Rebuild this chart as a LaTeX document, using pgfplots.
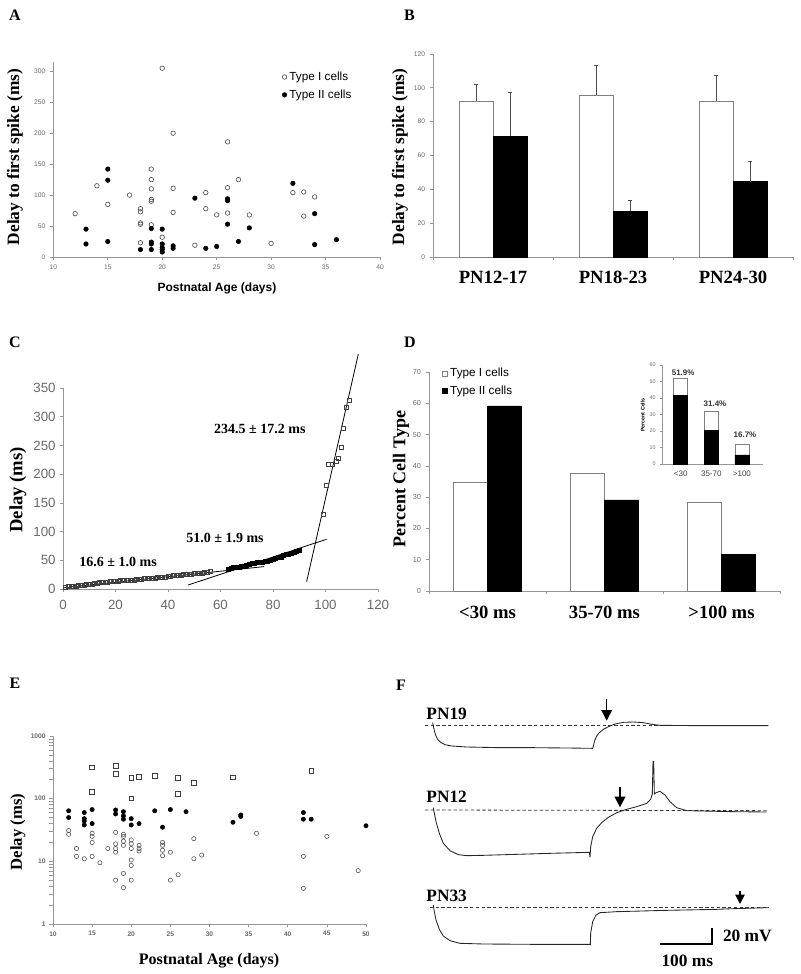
\documentclass[border=0pt]{standalone}
\usepackage{fontspec}
\setmainfont{Liberation Serif}
\newfontfamily\sansf{Liberation Sans}
\usepackage{pgfplots}
\pgfplotsset{compat=1.18}
\usetikzlibrary{arrows.meta}
\definecolor{axgray}{RGB}{150,150,150}
\definecolor{tkgray}{RGB}{105,105,105}
\definecolor{mkgray}{RGB}{85,85,85}
\newcommand{\fs}[1]{\fontsize{#1}{#1}\selectfont}
\pgfplotsset{
  panel/.style={scale only axis, anchor=south west, clip=false, enlargelimits=false,
    axis lines=left, axis line style={-, draw=axgray, line width=0.6pt},
    tick style={draw=axgray, line width=0.5pt}, tick align=outside,
    major tick length=2.5pt, minor tick num=0,
    ticklabel style={text=tkgray},
    /pgf/number format/assume math mode=true,
    legend cell align=left},
  sqlegend/.style={legend image code/.code={\draw[##1,line width=0.5pt] (0pt,-2pt) rectangle (4pt,2pt);}},
  mklegend/.style={legend image code/.code={\draw[mark repeat=2,mark phase=2,##1] plot coordinates {(0pt,0pt)(3pt,0pt)(6pt,0pt)};}},
}
\begin{document}
\begin{tikzpicture}
\path[use as bounding box] (0pt,0pt) rectangle (600pt,730.5pt);
% panel letters
\node[font=\bfseries\fs{12}] at (11.25pt,719.25pt) {A};
\node[font=\bfseries\fs{12}] at (307pt,719.25pt) {B};
\node[font=\bfseries\fs{12}] at (11.25pt,474pt) {C};
\node[font=\bfseries\fs{12}] at (307.5pt,474pt) {D};
\node[font=\bfseries\fs{12}] at (11.25pt,218.25pt) {E};
\node[font=\bfseries\fs{12}] at (300.75pt,216.75pt) {F};
% axis titles
\node[rotate=90, font=\bfseries\fs{13}] at (11.25pt,612.75pt) {Delay to first spike (ms)};
\node[rotate=90, font=\bfseries\fs{13}] at (300pt,612.75pt) {Delay to first spike (ms)};
\node[font=\sansf\bfseries\fs{9}] at (162.75pt,514.5pt) {Postnatal Age (days)};
\node[rotate=90, font=\bfseries\fs{14}] at (13.5pt,363pt) {Delay (ms)};
\node[rotate=90, font=\bfseries\fs{13.5}] at (300.75pt,371.25pt) {Percent Cell Type};
\node[rotate=90, font=\bfseries\fs{12.5}] at (13.5pt,106.5pt) {Delay (ms)};
\node[font=\bfseries\fs{12}] at (156.75pt,9.75pt) {Postnatal Age (days)};
\node[rotate=90, font=\sansf\bfseries\fs{4}] at (482pt,419.25pt) {Percent Cells};

% ---------------- Panel A
\begin{axis}[panel, at={(40pt,537.75pt)}, width=245pt, height=146.25pt,
  xmin=10, xmax=40, ymin=0, ymax=315,
  xtick={10,15,...,40}, ytick={0,50,...,300},
  ticklabel style={font=\sansf\fs{5}},
  legend style={at={(0.70,0.965)}, anchor=north west, draw=none, fill=none,
    font=\sansf\fs{8.8}, row sep=1.5pt, inner sep=0pt}]
\addplot[only marks, mark=o, mark size=1.7pt, draw=mkgray, line width=0.5pt, mklegend] coordinates {
(12,70) (14,115) (15,85) (17,100) (18,78) (18,73) (18,55) (18,53) (18,23)
(19,142) (19,125) (19,110) (19,93) (19,90) (19,52) (20,305) (20,32)
(21,200) (21,111) (21,72) (23,19) (24,104) (24,78) (25,68) (26,186) (26,112) (26,71)
(27,125) (28,68) (30,22) (32,104) (33,105) (33,66) (34,97)};
\addlegendentry{Type I cells}
\addplot[only marks, mark=*, mark size=1.7pt, black, mklegend] coordinates {
(13,45) (13,21) (15,142) (15,124) (15,25) (18,12) (19,46) (19,24) (19,21) (19,12)
(20,45) (20,21) (20,15) (20,12) (20,8) (21,18) (21,14) (23,95) (24,14) (25,17)
(26,94) (26,91) (26,53) (27,25) (28,47) (32,119) (34,70) (34,20) (36,28)};
\addlegendentry{Type II cells}
\end{axis}

% ---------------- Panel B
\begin{axis}[panel, at={(324.75pt,537.75pt)}, width=270pt, height=152.25pt,
  xmin=-0.5, xmax=2.5, ymin=0, ymax=120,
  xtick={-0.5,0.5,1.5,2.5}, xticklabels={}, ytick={0,20,...,120},
  ticklabel style={font=\sansf\fs{5}}]
\addplot[ybar, bar width=25.5pt, bar shift=0pt, fill=white, draw=gray, line width=0.6pt,
  error bars/.cd, y dir=plus, y explicit,
  error bar style={line width=0.6pt, draw=black!70},
  error mark options={rotate=90, mark size=1.8pt, line width=0.8pt, draw=black!70}]
  coordinates {(-0.1417,92) +- (0,10) (0.8583,95.5) +- (0,17.5) (1.8583,92) +- (0,15.5)};
\addplot[ybar, bar width=25.5pt, bar shift=0pt, fill=black, draw=black,
  error bars/.cd, y dir=plus, y explicit,
  error bar style={line width=0.6pt, draw=black!70},
  error mark options={rotate=90, mark size=1.8pt, line width=0.8pt, draw=black!70}]
  coordinates {(0.1417,71.5) +- (0,25.5) (1.1417,27) +- (0,6.5) (2.1417,44.5) +- (0,12)};
\node[font=\bfseries\fs{14}, yshift=-15pt] at (axis cs:0,0) {PN12-17};
\node[font=\bfseries\fs{14}, yshift=-15pt] at (axis cs:1,0) {PN18-23};
\node[font=\bfseries\fs{14}, yshift=-15pt] at (axis cs:2,0) {PN24-30};
\end{axis}

% ---------------- Panel C
\begin{axis}[panel, at={(47.25pt,288.75pt)}, width=236.25pt, height=150.75pt,
  xmin=0, xmax=120, ymin=0, ymax=350, xtick={0,20,...,120}, ytick={0,50,...,350},
  ticklabel style={font=\sansf\fs{10}}, xticklabel style={yshift=-3pt}, major tick length=2pt]
\addplot[only marks, mark=square, mark size=1.5pt, draw=black!75, line width=0.45pt] coordinates {
(1,3) (2,4) (3,4) (4,5) (5,5) (6,6) (7,6) (8,7) (9,8) (10,9) (11,9) (12,10) (13,10) (14,11)
(15,11) (16,12) (17,12) (18,13) (19,13) (20,14) (21,14) (22,15) (23,15) (24,15) (25,16) (26,16)
(27,16) (28,17) (29,17) (30,17) (31,18) (32,18) (33,18) (34,19) (35,19) (36,20) (37,20) (38,21)
(39,21) (40,22) (41,22) (42,23) (43,23) (44,24) (45,24) (46,25) (47,25) (48,26) (49,26) (50,27)
(51,27) (52,28) (53,28) (54,29) (55,29) (56,30)};
\addplot[only marks, mark=square*, mark size=1.5pt, black] coordinates {
(63,35) (64,36) (65,37) (66,38) (67,38) (68,39) (69,40) (70,42) (71,43) (72,44) (73,45) (74,46)
(75,46) (76,47) (77,48) (78,49) (79,50) (80,52) (81,54) (82,55) (83,56) (84,58) (85,60) (86,61)
(87,63) (88,64) (89,66) (90,68)};
\addplot[only marks, mark=square, mark size=1.5pt, draw=black!75, line width=0.45pt] coordinates {
(99.2,130) (100.2,180) (101.1,217) (102.7,218) (104,222) (104.9,228) (105.9,247) (106.8,279) (108.1,316) (109.1,328)};
\addplot[black, line width=0.6pt] coordinates {(0,2) (76.6,39)};
\addplot[black, line width=0.6pt] coordinates {(47.7,7) (100.4,86.6)};
\addplot[black, line width=0.6pt] coordinates {(92.8,12.7) (112.5,409)};
\node[font=\bfseries\fs{10.5}] at (axis cs:21,47) {16.6 ± 1.0 ms};
\node[font=\bfseries\fs{10.5}] at (axis cs:61.7,89) {51.0 ± 1.9 ms};
\node[font=\bfseries\fs{10.5}] at (axis cs:75,279) {234.5 ± 17.2 ms};
\end{axis}

% ---------------- Panel D
\begin{axis}[panel, at={(321.75pt,287.25pt)}, width=263.25pt, height=164.25pt,
  xmin=-0.5, xmax=2.5, ymin=0, ymax=70, xtick={-0.5,0.5,1.5,2.5}, xticklabels={}, ytick={0,10,...,70},
  ticklabel style={font=\sansf\fs{5.5}},
  legend style={at={(0.035,1.03)}, anchor=north west, draw=none, fill=none,
    font=\sansf\fs{8.8}, row sep=1pt, inner sep=0pt}]
\addplot[ybar, bar width=25.5pt, bar shift=0pt, fill=white, draw=gray, line width=0.6pt, sqlegend]
  coordinates {(-0.1453,34.6) (0.8547,37.7) (1.8547,28.4)};
\addlegendentry{Type I cells}
\addplot[ybar, bar width=25.5pt, bar shift=0pt, fill=black, draw=black, sqlegend]
  coordinates {(0.1453,59.2) (1.1453,29.1) (2.1453,11.8)};
\addlegendentry{Type II cells}
\node[font=\bfseries\fs{14}, yshift=-15.75pt] at (axis cs:0,0) {<30 ms};
\node[font=\bfseries\fs{14}, yshift=-15.75pt] at (axis cs:1,0) {35-70 ms};
\node[font=\bfseries\fs{14}, yshift=-15.75pt] at (axis cs:2,0) {>100 ms};
\end{axis}

% ---------------- Panel D inset
\begin{axis}[panel, at={(496.75pt,382.5pt)}, width=75.75pt, height=74.25pt,
  xmin=-0.6, xmax=2.7, ymin=0, ymax=60, xtick={0,1,2}, xticklabels={<30,35-70,>100}, ytick={0,10,...,60},
  yticklabel style={font=\sansf\fs{4}}, xticklabel style={font=\sansf\fs{6}, text=black!75},
  major tick length=1.5pt, major x tick style={draw=none}, ybar stacked, bar width=10.5pt]
\addplot[fill=black, draw=black] coordinates {(0,41.6) (1,20.6) (2,5.5)};
\addplot[fill=white, draw=gray, line width=0.5pt] coordinates {(0,10.3) (1,11.1) (2,6.4)};
\node[font=\sansf\bfseries\fs{6}, text=black!80] at (axis cs:0.08,55.3) {51.9\%};
\node[font=\sansf\bfseries\fs{6}, text=black!80] at (axis cs:1.12,36.8) {31.4\%};
\node[font=\sansf\bfseries\fs{6}, text=black!80] at (axis cs:2.1,17.6) {16.7\%};
\end{axis}

% ---------------- Panel E
\begin{axis}[panel, ymode=log, at={(39.75pt,37.5pt)}, width=234.75pt, height=141pt,
  xmin=10, xmax=50, ymin=1, ymax=1000, xtick={10,15,...,50}, ytick={1,10,100,1000},
  yticklabels={1,10,100,1000}, ticklabel style={font=\sansf\bfseries\fs{5}}, major tick length=2pt]
\addplot[only marks, mark=square, mark size=1.8pt, draw=black!75, line width=0.45pt] coordinates {
(15,316) (15,130) (18,333) (18,248) (20,216) (20,101) (21,225) (23,230) (26,216) (26,120)
(28,180) (33,219) (43,280)};
\addplot[only marks, mark=*, mark size=1.6pt, black] coordinates {
(12,64) (12,50) (14,60) (14,48) (14,44) (14,38) (15,67) (15,40) (18,66) (18,57)
(19,62) (19,53) (19,47) (20,48) (20,38) (21,40) (23,64) (24,35) (25,67) (27,62)
(33,42) (34,55) (34,52) (42,60) (42,47) (43,47) (50,37)};
\addplot[only marks, mark=o, mark size=1.6pt, draw=mkgray, line width=0.45pt] coordinates {
(12,31) (12,27) (13,16) (13,12) (14,11) (15,28) (15,25) (15,20) (15,12) (16,9.5) (17,16)
(18,29) (18,19) (18,16) (18,14) (18,5) (19,27) (19,25) (19,21) (19,18) (19,6.4) (19,3.8)
(20,22) (20,19) (20,16) (20,10.5) (20,8.6) (20,5) (21,18) (21,16) (21,14.6)
(24,20) (24,18) (24,15) (24,12.3) (25,14) (25,5) (26,6.1) (28,23) (28,11) (29,12.6)
(36,28) (42,12) (42,3.7) (45,25) (49,7.1)};
\end{axis}

% ---------------- Panel F (traces)
\begin{axis}[at={(300pt,0pt)}, anchor=south west, scale only axis, width=300pt, height=250.5pt,
  xmin=0, xmax=1200, ymin=0, ymax=1002, y dir=reverse, hide axis, clip=false]
\addplot[black!80, line width=0.6pt, dash pattern=on 2.5pt off 1.8pt] coordinates {(75,256) (1105,256)};
\addplot[black!80, line width=0.6pt, dash pattern=on 2.5pt off 1.8pt] coordinates {(75,510) (1100,512)};
\addplot[black!80, line width=0.6pt, dash pattern=on 2.5pt off 1.8pt] coordinates {(90,803) (1105,803)};
\addplot[black!85, line width=0.65pt] coordinates {(98,248) (100,258) (103,272) (107,286) (113,298)
 (122,307) (135,314) (155,318) (200,321) (300,323) (400,323) (500,324) (578,325) (580,318)
 (584,302) (590,288) (598,278) (610,268) (625,260) (645,252) (670,247) (700,246) (730,248)
 (755,253) (780,256) (900,257) (1105,257)};
\addplot[black!85, line width=0.65pt] coordinates {(100,503) (102,515) (108,545) (118,580) (130,610)
 (150,632) (175,644) (200,647) (250,646) (350,643) (450,640) (568,637) (570,652) (572,620)
 (578,590) (590,565) (605,548) (625,532) (650,518) (680,508) (710,500) (740,490) (752,478)
 (757,462) (759,365) (761,365) (763,462) (768,458) (780,454) (795,465) (810,485) (830,503)
 (860,512) (1000,515) (1100,516)};
\addplot[black!85, line width=0.65pt] coordinates {(100,795) (102,810) (108,840) (118,868) (130,888)
 (150,902) (180,910) (250,912) (400,913) (571,913) (572,880) (578,845) (588,825) (600,818)
 (650,815) (800,811) (950,808) (1000,806) (1105,803)};
\addplot[black, line width=1.2pt, -{Triangle[width=8pt,length=8pt]}] coordinates {(620,178) (620,242)};
\addplot[black, line width=1.2pt, -{Triangle[width=8pt,length=8pt]}] coordinates {(660,440) (660,502)};
\addplot[black, line width=1.1pt, -{Triangle[width=7pt,length=7pt]}] coordinates {(1020,752) (1020,792)};
\addplot[black, line width=1.6pt] coordinates {(780,912) (935,912) (935,865)};
\node[font=\bfseries\fs{13}] at (axis cs:140,222) {PN19};
\node[font=\bfseries\fs{13}] at (axis cs:140,470) {PN12};
\node[font=\bfseries\fs{13}] at (axis cs:140,768) {PN33};
\node[font=\bfseries\fs{13}, anchor=west] at (axis cs:955,888) {20 mV};
\node[font=\bfseries\fs{13}] at (axis cs:862,962) {100 ms};
\end{axis}
\end{tikzpicture}
\end{document}
